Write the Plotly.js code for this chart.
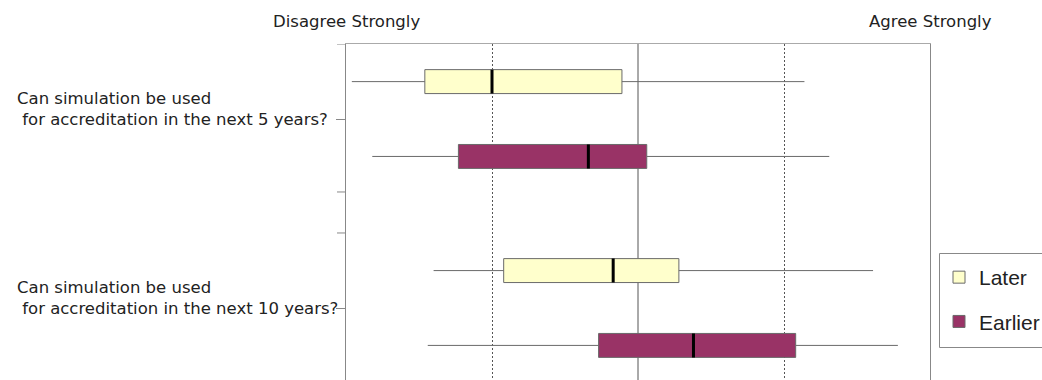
<!DOCTYPE html>
<html>
<head>
<meta charset="utf-8">
<script src="https://cdn.plot.ly/plotly-3.0.1.min.js"></script>
<style>
  html, body { margin: 0; padding: 0; background: #fff; }
  #chart { width: 1042px; height: 380px; }
</style>
</head>
<body>
<div id="chart"></div>
<script>
// Survey questions, one row each
const questions = [
  'Can simulation be used<br>\u00a0for accreditation in the next 5 years?',
  'Can simulation be used<br>\u00a0for accreditation in the next 10 years?'
];
const seriesNames = ['Later', 'Earlier'];

// Five-number summaries on the 1 (disagree strongly) .. 5 (agree strongly) scale
const laterMin    = [1.04, 1.60];
const laterQ1     = [1.54, 2.08];
const laterMedian = [2.00, 2.83];
const laterQ3     = [2.89, 3.28];
const laterMax    = [4.14, 4.61];

const earlierMin    = [1.18, 1.56];
const earlierQ1     = [1.77, 2.73];
const earlierMedian = [2.66, 3.38];
const earlierQ3     = [3.06, 4.08];
const earlierMax    = [4.31, 4.78];

const scaleRange = [1, 5];
const neutral = 3;
const quarterLines = [2, 4];
const scaleEndLabels = ['Disagree Strongly', 'Agree Strongly'];

const labelFont = { family: 'DejaVu Sans, Verdana, sans-serif', size: 16.5, color: '#222' };

function summaryBox(name, lo, q1, med, q3, hi, fill) {
  return {
    type: 'box', orientation: 'h', name: name,
    y: questions, lowerfence: lo, q1: q1, median: med, q3: q3, upperfence: hi,
    fillcolor: fill, line: { color: '#6a6a6a', width: 1 },
    whiskerwidth: 0, boxpoints: false,
    alignmentgroup: 'q', offsetgroup: name, legendgroup: name,
    hoverinfo: 'x'
  };
}

// zero-width box drawn on top to give a heavy median tick
function medianTick(name, med) {
  return {
    type: 'box', orientation: 'h', name: name + ' median',
    y: questions, lowerfence: med, q1: med, median: med, q3: med, upperfence: med,
    fillcolor: 'rgba(0,0,0,0)', line: { color: '#000', width: 3 },
    whiskerwidth: 0, boxpoints: false,
    alignmentgroup: 'q', offsetgroup: name,
    showlegend: false, hoverinfo: 'skip'
  };
}

const traces = [
  summaryBox(seriesNames[0], laterMin, laterQ1, laterMedian, laterQ3, laterMax, '#ffffcc'),
  summaryBox(seriesNames[1], earlierMin, earlierQ1, earlierMedian, earlierQ3, earlierMax, '#993366'),
  medianTick(seriesNames[0], laterMedian),
  medianTick(seriesNames[1], earlierMedian)
];

// unlabelled tick marks on the question axis
const extraTicks = [-0.397, 0.386, 0.603];
const plotLeft = 346, plotRight = 930, plotTop = 44, figH = 380;
const plotWidth = plotRight - plotLeft;
const plotHeight = figH - plotTop;
const px2x = px => (px - plotLeft) / plotWidth;
const px2y = py => (figH - py) / plotHeight;

const shapes = [
  { type: 'line', xref: 'x', yref: 'paper', x0: neutral, x1: neutral, y0: 0, y1: 1,
    line: { color: '#555', width: 1 }, layer: 'below' },
  // legend frame, running off the right edge of the figure
  { type: 'rect', xref: 'paper', yref: 'paper',
    x0: px2x(939.5), x1: px2x(1050), y0: px2y(347.5), y1: px2y(253.5),
    line: { color: '#888', width: 1 }, fillcolor: '#fff', layer: 'above' }
].concat(extraTicks.map(v => ({
  type: 'line', xref: 'paper', yref: 'y', x0: -9 / plotWidth, x1: 0, y0: v, y1: v,
  line: { color: '#888', width: 1 }
})));

const annotations = questions.map(q => ({
  xref: 'paper', yref: 'y', x: px2x(15), y: q,
  xanchor: 'left', yanchor: 'middle', align: 'left', yshift: 10.5,
  text: q, showarrow: false, font: labelFont
})).concat(scaleEndLabels.map((t, i) => ({
  xref: 'paper', yref: 'paper', x: i, y: px2y(21),
  xanchor: 'center', yanchor: 'middle',
  text: t, showarrow: false, font: labelFont
})));

const layout = {
  width: 1042, height: 380,
  margin: { l: plotLeft, r: 1042 - plotRight, t: plotTop, b: 0, autoexpand: false },
  paper_bgcolor: '#fff', plot_bgcolor: '#fff',
  boxmode: 'group', boxgap: 0.208, boxgroupgap: 0.68,
  showlegend: true,
  legend: {
    x: px2x(939), y: px2y(257), xanchor: 'left', yanchor: 'top',
    font: { family: 'Liberation Sans, Arial, sans-serif', size: 21, color: '#222' },
    borderwidth: 0, bgcolor: 'rgba(0,0,0,0)',
    traceorder: 'grouped', tracegroupgap: 14, itemwidth: 30
  },
  xaxis: {
    range: scaleRange, side: 'top',
    showline: true, linecolor: '#aaa', linewidth: 1,
    ticks: '', showticklabels: false,
    tickmode: 'array', tickvals: quarterLines,
    showgrid: true, gridcolor: '#555', gridwidth: 1, griddash: '2px,2px',
    zeroline: false, fixedrange: true
  },
  yaxis: {
    type: 'category', categoryorder: 'array', categoryarray: questions,
    range: [1.381, -0.397],
    showticklabels: false, ticks: 'outside', ticklen: 9, tickcolor: '#888', tickwidth: 1,
    showline: true, linecolor: '#888', linewidth: 1, mirror: true,
    showgrid: false, zeroline: false, fixedrange: true
  },
  shapes: shapes,
  annotations: annotations
};

Plotly.newPlot('chart', traces, layout, { displayModeBar: false, staticPlot: true });
</script>
</body>
</html>
